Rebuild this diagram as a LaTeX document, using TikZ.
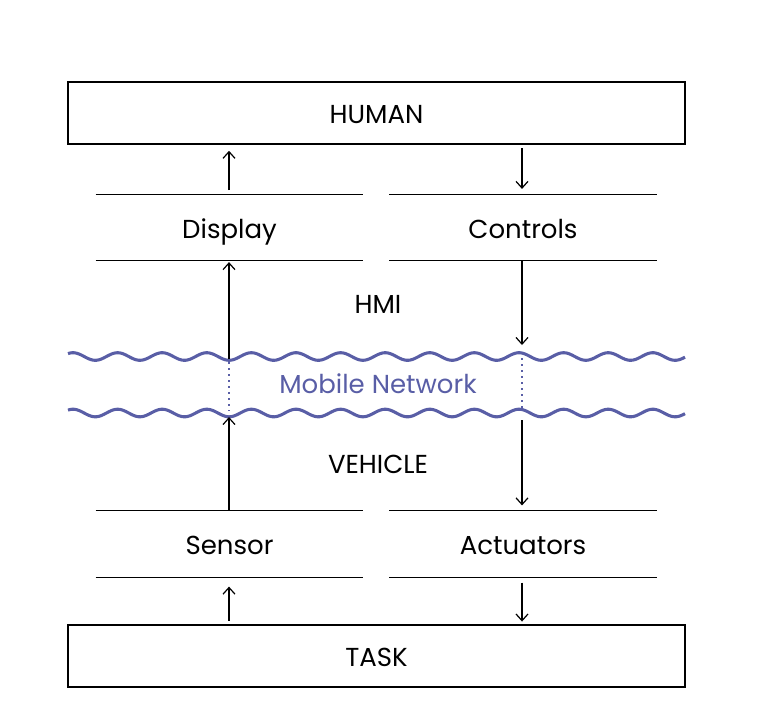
\documentclass[tikz,border=0pt]{standalone}
\usepackage{fontspec}
\setmainfont{Poppins}
\usetikzlibrary{arrows.meta}
\definecolor{wavecol}{RGB}{89,94,166}
\tikzset{
  txt/.style={font=\fontsize{19.5}{22}\selectfont},
  box/.style={txt, draw=black, line width=2.2pt, minimum width=462.75pt, minimum height=46.5pt, inner sep=0pt, text height=15pt, text depth=0pt},
  band/.style={txt, minimum width=200.25pt, minimum height=49.5pt, inner sep=0pt, text height=15.75pt, text depth=0pt},
  lbl/.style={txt, inner sep=0pt, anchor=base},
  bandline/.style={line width=0.9pt},
  arr/.style={line width=0.9pt, -{Straight Barb[length=5pt,width=9pt]}},
  wave/.style={wavecol, line width=2.3pt},
  dots/.style={wavecol, line width=1.3pt, dash pattern=on 1.2pt off 3.3pt}
}
\begin{document}
\begin{tikzpicture}[x=0.75pt,y=-0.75pt]
\useasboundingbox (0,0) rectangle (762,708);
% boxes
\node[box] (human) at (376.5,113) {HUMAN};
\node[box] (task) at (376.5,656) {TASK};
% bands
\node[band] (disp) at (229.5,227.5) {Display};
\node[band] (ctrl) at (523,227.5) {Controls};
\node[band] (sens) at (229.5,544) {Sensor};
\node[band] (act) at (523,544) {Actuators};
\foreach \n in {disp,ctrl,sens,act}{
  \draw[bandline] (\n.north west) -- (\n.north east);
  \draw[bandline] (\n.south west) -- (\n.south east);
}
% labels
\node[lbl] (hmi) at (378,313) {HMI};
\node[lbl] (veh) at (378,473) {VEHICLE};
\node[lbl, text=wavecol] (net) at (378,393) {Mobile Network};
% waves
\draw[wave] plot[domain=68:685, samples=300, smooth] (\x,{356.5-3.8*cos(8.0717*(\x-73))});
\draw[wave] plot[domain=68:685, samples=300, smooth] (\x,{413-3.8*cos(8.0717*(\x-73))});
% wave coordinates
\coordinate (wtl) at (229,359);
\coordinate (wtr) at (522,345);
\coordinate (wbl) at (229,417);
\coordinate (wbr) at (522,420);
\coordinate (dtl) at (229,362);
\coordinate (dbl) at (229,411);
\coordinate (dtr) at (522,358);
\coordinate (dbr) at (522,408);
% arrows
\draw[arr, shorten <=3pt, shorten >=4pt] (disp.north -| 229,0) -- (human.south -| 229,0);
\draw[arr, shorten <=2pt, shorten >=4pt] (human.south -| 522,0) -- (ctrl.north -| 522,0);
\draw[arr, shorten >=1pt] (wtl) -- (disp.south -| 229,0);
\draw[arr] (ctrl.south -| 522,0) -- (wtr);
\draw[arr] (sens.north -| 229,0) -- (wbl);
\draw[arr, shorten >=4pt] (wbr) -- (act.north -| 522,0);
\draw[arr, shorten <=2pt, shorten >=7pt] (task.north -| 229,0) -- (sens.south -| 229,0);
\draw[arr, shorten <=4pt, shorten >=1.5pt] (act.south -| 522,0) -- (task.north -| 522,0);
% dotted links
\draw[dots] (dtl) -- (dbl);
\draw[dots] (dtr) -- (dbr);
\end{tikzpicture}
\end{document}
